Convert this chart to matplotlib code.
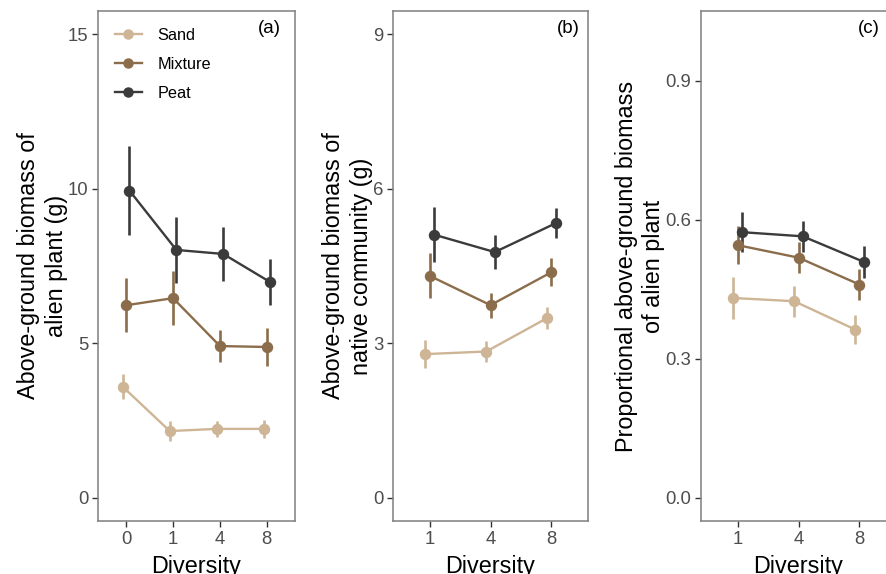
import matplotlib
matplotlib.use("Agg")
import matplotlib.pyplot as plt
from matplotlib.lines import Line2D
import numpy as np

plt.rcParams['font.family'] = ['Liberation Sans', 'DejaVu Sans']

soils = ["Sand", "Mixture", "Peat"]
colors = {"Sand": "#CDB596", "Mixture": "#8B6D4B", "Peat": "#3B3B3B"}

# Panel (a)
div_a = ["0", "1", "4", "8"]
a_mean = {"Sand": [3.59, 2.16, 2.23, 2.23],
          "Mixture": [6.23, 6.46, 4.91, 4.88],
          "Peat": [9.94, 8.02, 7.89, 6.98]}
a_err = {"Sand": [0.40, 0.31, 0.26, 0.28],
         "Mixture": [0.87, 0.88, 0.51, 0.61],
         "Peat": [1.43, 1.08, 0.87, 0.75]}

# Panel (b)
div_b = ["1", "4", "8"]
b_mean = {"Sand": [2.79, 2.84, 3.49],
          "Mixture": [4.31, 3.74, 4.38],
          "Peat": [5.11, 4.77, 5.33]}
b_err = {"Sand": [0.27, 0.21, 0.21],
         "Mixture": [0.44, 0.24, 0.27],
         "Peat": [0.54, 0.33, 0.29]}

# Panel (c)
div_c = ["1", "4", "8"]
c_mean = {"Sand": [0.431, 0.424, 0.363],
          "Mixture": [0.545, 0.518, 0.460],
          "Peat": [0.573, 0.564, 0.509]}
c_err = {"Sand": [0.046, 0.033, 0.032],
         "Mixture": [0.041, 0.034, 0.034],
         "Peat": [0.043, 0.033, 0.034]}

dodge = {"Sand": -0.07, "Mixture": 0.0, "Peat": 0.07}

W, H = 886, 574
fig = plt.figure(figsize=(W / 100, H / 100), dpi=100)

def add_ax(l, r, t, b):
    return fig.add_axes([l / W, 1 - b / H, (r - l) / W, (b - t) / H])

ax_a = add_ax(98, 295, 11, 521)
ax_b = add_ax(393, 588, 11, 521)
ax_c = add_ax(701, 896, 11, 521)

tick_col = "#4D4D4D"
LAB = 16.8

def draw(ax, cats, means, errs, ylim, yticks, yticklabels, ylabel, tag, tagx):
    idx = np.arange(1, len(cats) + 1)
    for s in soils:
        x = idx + dodge[s]
        ax.errorbar(x, means[s], yerr=errs[s], color=colors[s], lw=1.7,
                    elinewidth=1.9, capsize=0, marker='o', ms=7.2, zorder=3)
    ax.set_xlim(0.4, len(cats) + 0.6)
    ax.set_ylim(*ylim)
    ax.set_xticks(idx)
    ax.set_xticklabels(cats)
    ax.set_yticks(yticks)
    ax.set_yticklabels(yticklabels)
    ax.tick_params(axis='both', direction='out', length=4.5, width=1,
                   colors='#333333', labelcolor=tick_col, labelsize=13.3, pad=2.5)
    for sp in ax.spines.values():
        sp.set_color('#7F7F7F')
        sp.set_linewidth(1.1)
    ax.set_ylabel(ylabel, fontsize=LAB, color='black', labelpad=0, linespacing=1.25)
    ax.set_xlabel("Diversity", fontsize=LAB, color='black', labelpad=5)
    ax.text(tagx, 0.965, tag, transform=ax.transAxes, ha='center', va='center',
            fontsize=13.5, color='black')

draw(ax_a, div_a, a_mean, a_err, (-0.75, 15.75), [0, 5, 10, 15],
     ["0", "5", "10", "15"], "Above-ground biomass of\nalien plant (g)", "(a)", 0.870)
draw(ax_b, div_b, b_mean, b_err, (-0.45, 9.45), [0, 3, 6, 9],
     ["0", "3", "6", "9"], "Above-ground biomass of\nnative community (g)", "(b)", 0.900)
draw(ax_c, div_c, c_mean, c_err, (-0.05, 1.05), [0.0, 0.3, 0.6, 0.9],
     ["0.0", "0.3", "0.6", "0.9"], "Proportional above-ground biomass\nof alien plant", "(c)", 0.862)

handles = [Line2D([0], [0], color=colors[s], lw=1.7, marker='o', ms=6.5) for s in soils]
ax_a.legend(handles, soils, loc='upper left', bbox_to_anchor=(0.0, 1.0),
            frameon=False, fontsize=11.7, handlelength=1.65, labelspacing=0.85,
            handletextpad=0.95, borderaxespad=0.65)

fig.savefig("out.png", dpi=100)
